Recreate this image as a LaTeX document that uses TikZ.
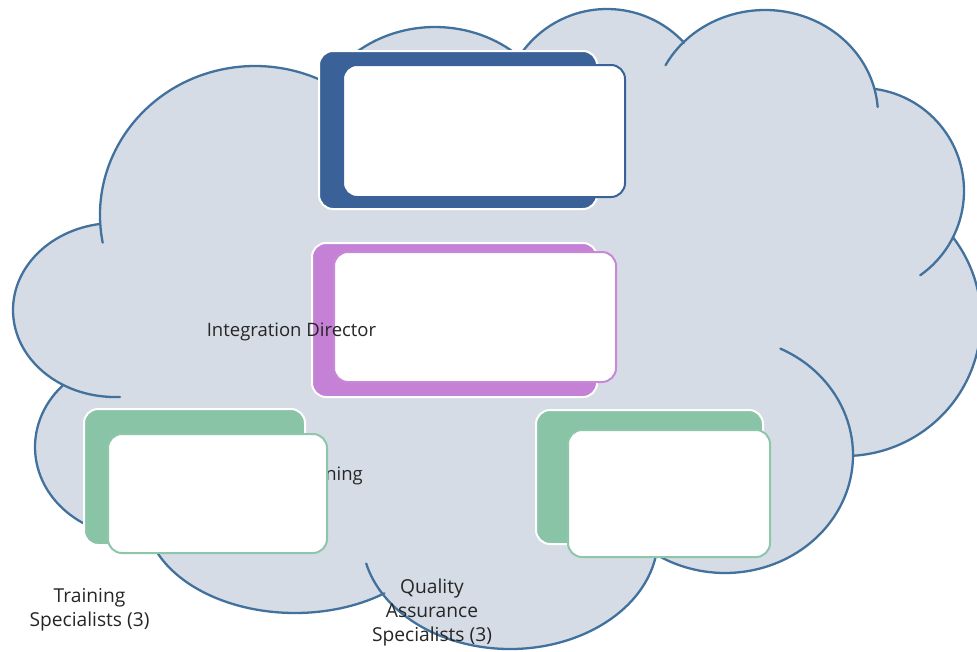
\documentclass[tikz,border=0pt]{standalone}
\usepackage{fontspec}
\setmainfont{Open Sans}
\definecolor{cloudfill}{HTML}{D6DCE5}
\definecolor{cloudline}{HTML}{41719C}
\definecolor{bluebox}{HTML}{3B6298}
\definecolor{purplebox}{HTML}{C481D6}
\definecolor{purpleline}{HTML}{C788D8}
\definecolor{greenbox}{HTML}{8AC4A7}
\definecolor{greenline}{HTML}{8EC6A9}
% lobe arc: {cx}{cy}{rx}{ry}{start}{end}
\newcommand\lobearc[6]{([shift={(#1,#2)}]#5:#3 and #4) arc[start angle=#5, end angle=#6, x radius=#3, y radius=#4]}
\begin{document}
\begin{tikzpicture}[x=1pt, y=-1pt,
  cloudedge/.style={draw=cloudline, line width=2.3pt, line cap=round},
  backbox/.style={rectangle, draw=white, line width=2pt, rounded corners=14pt, inner sep=0pt},
  frontbox/.style={rectangle, fill=white, line width=2pt, rounded corners=14pt, inner sep=0pt},
  lbl/.style={font=\fontsize{18.5}{23.5}\selectfont, text=black!85, inner sep=0pt, align=center},
  biglbl/.style={lbl, font=\fontsize{19.2}{24}\selectfont}]
\clip (0,0) rectangle (977,651);
% cloud fill
\fill[cloudfill]
  \lobearc{115}{310}{102}{87}{120.3}{261.6}
  -- \lobearc{255}{215}{155}{149}{176.9}{298.1}
  -- \lobearc{435}{140}{125}{113}{210.9}{312.2}
  -- \lobearc{607}{114}{105}{105}{213.4}{317.3}
  -- \lobearc{765}{115}{113}{105}{223.7}{346.3}
  -- \lobearc{861}{191}{103}{103}{-82.1}{26.6}
  -- \lobearc{845}{320}{136}{136}{-37.5}{86.6}
  -- \lobearc{725}{455}{128}{118}{0.5}{121.6}
  -- \lobearc{510}{537}{148}{112}{10.2}{150.2}
  -- \lobearc{295}{513}{150}{100}{53.4}{166.2}
  -- \lobearc{135}{447}{100}{89}{82.7}{223.6}
  -- cycle;
% cloud outline (with inner tails)
\draw[cloudedge] \lobearc{115}{310}{102}{87}{87.2}{261.6};
\draw[cloudedge] \lobearc{255}{215}{155}{149}{169.3}{298.1};
\draw[cloudedge] \lobearc{435}{140}{125}{113}{210.9}{312.2};
\draw[cloudedge] \lobearc{607}{114}{105}{105}{213.4}{317.3};
\draw[cloudedge] \lobearc{765}{115}{113}{105}{208.3}{355.6};
\draw[cloudedge] \lobearc{861}{191}{103}{103}{-82.1}{54.9};
\draw[cloudedge] \lobearc{845}{320}{136}{136}{-37.5}{86.6};
\draw[cloudedge] \lobearc{725}{455}{128}{118}{-64.4}{121.6};
\draw[cloudedge] \lobearc{510}{537}{148}{112}{10.2}{166.3};
\draw[cloudedge] \lobearc{295}{513}{150}{100}{53.4}{166.2};
\draw[cloudedge] \lobearc{135}{447}{100}{89}{82.7}{223.6};
% top (blue) pair
\node[backbox, fill=bluebox, minimum width=278pt, minimum height=158pt] (topback) at (458,130) {};
\node[frontbox, draw=bluebox, minimum width=282pt, minimum height=132pt] (topfront) at (484,131) {};
% middle (purple) pair
\node[backbox, fill=purplebox, minimum width=285pt, minimum height=154pt] (midback) at (454.5,320) {};
\node[frontbox, draw=purpleline, minimum width=282pt, minimum height=130pt] (midfront) at (475,317) {};
% hidden label behind the left green box
\node[lbl, anchor=base east] (trainhidden) at (363,480) {Training};
% left (green) pair
\node[backbox, fill=greenbox, minimum width=221pt, minimum height=136pt] (leftback) at (194.5,477) {};
\node[frontbox, draw=greenline, minimum width=219pt, minimum height=119pt] (leftfront) at (217.5,493.5) {};
% right (green) pair
\node[backbox, fill=greenbox, minimum width=227pt, minimum height=134pt] (rightback) at (649.5,477) {};
\node[frontbox, draw=greenline, minimum width=202pt, minimum height=127pt] (rightfront) at (669,493.5) {};
% labels
\node[lbl, anchor=base] (director) at (291.5,336) {Integration Director};
\node[biglbl] (trainspec) at (89.5,610) {Training\\Specialists (3)};
\node[biglbl] (qaspec) at (432,612.5) {Quality\\Assurance\\Specialists (3)};
\end{tikzpicture}
\end{document}
